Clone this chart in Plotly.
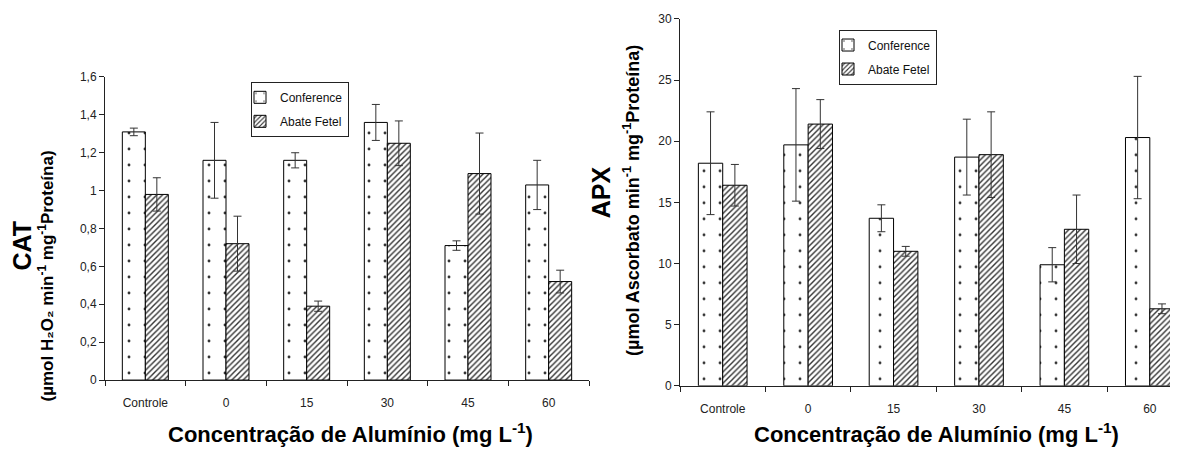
import plotly.graph_objects as go

categories = ["Controle", "0", "15", "30", "45", "60"]

cat_conference = [1.31, 1.16, 1.16, 1.36, 0.71, 1.03]
cat_conference_err = [0.02, 0.20, 0.04, 0.095, 0.025, 0.13]
cat_abate = [0.98, 0.72, 0.39, 1.25, 1.09, 0.52]
cat_abate_err = [0.088, 0.145, 0.027, 0.118, 0.214, 0.06]

apx_conference = [18.2, 19.7, 13.7, 18.7, 9.9, 20.3]
apx_conference_err = [4.2, 4.6, 1.1, 3.1, 1.4, 5.0]
apx_abate = [16.4, 21.4, 11.0, 18.9, 12.8, 6.3]
apx_abate_err = [1.7, 2.0, 0.4, 3.5, 2.8, 0.4]

# page is 1178x450, the html body has an 8px margin
OFF = 8
W, H = 1178 - OFF, 450 - OFF


def px(x):
    return (x - OFF) / W


def py(y):
    return 1 - (y - OFF) / H


FONT = "Liberation Sans, Arial, sans-serif"

dot_pattern = dict(shape=".", size=16, solidity=0.025, fgcolor="#333333", bgcolor="white", fillmode="replace")
hatch_pattern = dict(shape="/", size=4, solidity=0.35, fgcolor="#333333", bgcolor="white", fillmode="replace")
err_style = dict(type="data", visible=True, color="#333333", thickness=1, width=4)

fig = go.Figure()

fig.add_trace(go.Bar(
    x=categories, y=cat_conference, name="Conference", legendgroup="c1",
    marker=dict(color="white", line=dict(color="black", width=1), pattern=dot_pattern),
    error_y=dict(array=cat_conference_err, **err_style),
    xaxis="x", yaxis="y", legend="legend",
))
fig.add_trace(go.Bar(
    x=categories, y=cat_abate, name="Abate Fetel", legendgroup="a1",
    marker=dict(color="white", line=dict(color="black", width=1), pattern=hatch_pattern),
    error_y=dict(array=cat_abate_err, **err_style),
    xaxis="x", yaxis="y", legend="legend",
))
fig.add_trace(go.Bar(
    x=categories, y=apx_conference, name="Conference", legendgroup="c2",
    marker=dict(color="white", line=dict(color="black", width=1), pattern=dot_pattern),
    error_y=dict(array=apx_conference_err, **err_style),
    xaxis="x2", yaxis="y2", legend="legend2",
))
fig.add_trace(go.Bar(
    x=categories, y=apx_abate, name="Abate Fetel", legendgroup="a2",
    marker=dict(color="white", line=dict(color="black", width=1), pattern=hatch_pattern),
    error_y=dict(array=apx_abate_err, **err_style),
    xaxis="x2", yaxis="y2", legend="legend2",
))

axis_font = dict(family=FONT, size=12, color="#222222")
common_x = dict(type="category", showline=True, linecolor="#222222", linewidth=1,
                ticks="outside", ticklen=5, tickcolor="#222222", tickson="boundaries",
                ticklabelstandoff=12,
                tickfont=axis_font, showgrid=False, zeroline=False, fixedrange=True)
common_y = dict(showline=True, linecolor="#222222", linewidth=1, ticks="outside", ticklen=5,
                tickcolor="#222222", tickfont=axis_font, showgrid=False, zeroline=False,
                fixedrange=True)

legend_common = dict(
    bgcolor="white", bordercolor="#222222", borderwidth=1,
    font=dict(family=FONT, size=12, color="#111111"),
    xanchor="left", yanchor="top", itemwidth=30, tracegroupgap=5,
    indentation=-12, itemclick=False, itemdoubleclick=False,
)

fig.update_layout(
    width=W, height=H,
    margin=dict(l=0, r=0, t=0, b=0),
    paper_bgcolor="white", plot_bgcolor="white",
    barmode="group", bargap=0.43, bargroupgap=0,
    separators=", ",
    showlegend=True,
    font=dict(family=FONT, color="#111111"),
    xaxis=dict(domain=[px(105), px(589)], anchor="y", range=[-0.5, 5.5], **common_x),
    yaxis=dict(domain=[py(385), py(72)], anchor="x", range=[0, 1.6], dtick=0.2, **common_y),
    xaxis2=dict(domain=[px(680), 1.0], anchor="y2", range=[-0.5, 5.33], **common_x),
    yaxis2=dict(domain=[py(391), py(12)], anchor="x2", range=[0, 30], dtick=5, **common_y),
    legend=dict(x=px(251), y=py(77), **legend_common),
    legend2=dict(x=px(839), y=py(23), **legend_common),
)

bold = dict(family=FONT, color="#000000")
annotations = [
    dict(text="<b>CAT</b>", x=px(22), y=py(246), textangle=-90, font=dict(size=25, **bold)),
    dict(text="<b>(µmol H₂O₂ min<sup>-1</sup> mg<sup>-1</sup>Proteína)</b>", x=px(46), y=py(278),
         textangle=-90, font=dict(size=17, **bold)),
    dict(text="<b>APX</b>", x=px(601), y=py(191), textangle=-90, font=dict(size=25, **bold)),
    dict(text="<b>(µmol Ascorbato min<sup>-1</sup> mg<sup>-1</sup>Proteína)</b>", x=px(632), y=py(200),
         textangle=-90, font=dict(size=18, **bold)),
    dict(text="<b>Concentração de Alumínio (mg L<sup>-1</sup>)</b>", x=px(350), y=py(440),
         font=dict(size=22, **bold)),
    dict(text="<b>Concentração de Alumínio (mg L<sup>-1</sup>)</b>", x=px(936), y=py(440),
         font=dict(size=22, **bold)),
]
for a in annotations:
    a.update(xref="paper", yref="paper", showarrow=False, xanchor="center", yanchor="middle")
fig.update_layout(annotations=annotations)

fig.write_html("out.html")
